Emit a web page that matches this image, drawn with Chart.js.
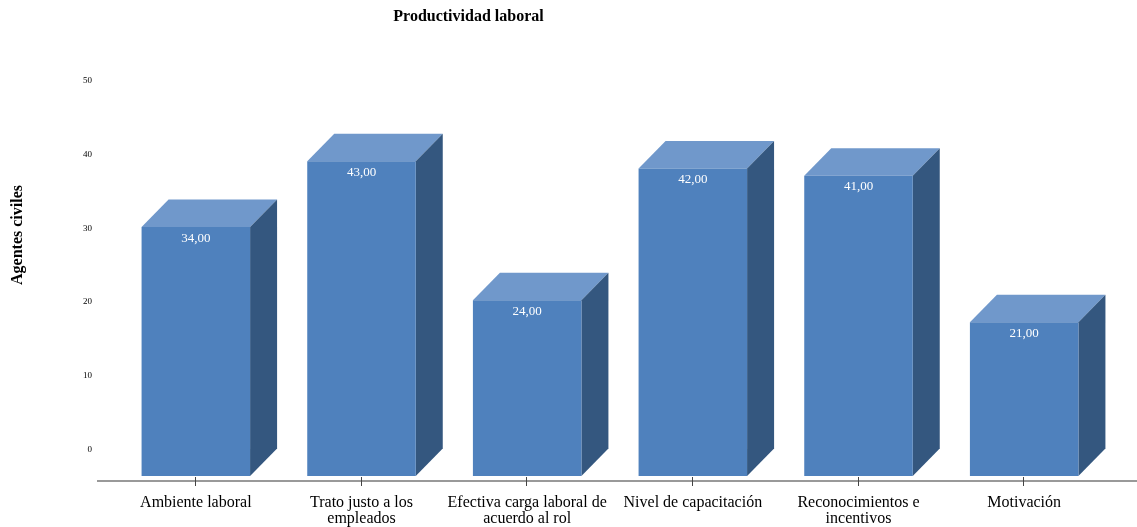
<!DOCTYPE html>
<html>
<head>
<meta charset="utf-8">
<title>Productividad laboral</title>
<script src="https://cdn.jsdelivr.net/npm/chart.js@4"></script>
<style>
body{margin:0;background:#fff}
canvas{display:block}
</style>
</head>
<body>
<canvas id="chart" width="1137" height="527"></canvas>
<script>
const chartTitle="Productividad laboral";
const yTitle="Agentes civiles";
const categories=[
    "Ambiente laboral",
    ["Trato justo a los","empleados"],
    ["Efectiva carga laboral de","acuerdo al rol"],
    "Nivel de capacitación",
    ["Reconocimientos e","incentivos"],
    "Motivación"
];
const values=[34,43,24,42,41,21];
const yTicks=[0,10,20,30,40,50];

const serif="'Liberation Serif','Times New Roman',serif";
const depthX=27;
const depthY=27.5;

const bar3d={
    id:"bar3d",
    beforeDatasetsDraw(chart){
        const ctx=chart.ctx;
        chart.getDatasetMeta(0).data.forEach(bar=>{
            const left=bar.x-bar.width/2;
            const right=bar.x+bar.width/2;
            ctx.fillStyle="#7098CB";
            ctx.beginPath();
            ctx.moveTo(left,bar.y);
            ctx.lineTo(left+depthX,bar.y-depthY);
            ctx.lineTo(right+depthX,bar.y-depthY);
            ctx.lineTo(right,bar.y);
            ctx.closePath();
            ctx.fill();
            ctx.fillStyle="#34577F";
            ctx.beginPath();
            ctx.moveTo(right,bar.y);
            ctx.lineTo(right+depthX,bar.y-depthY);
            ctx.lineTo(right+depthX,bar.base-depthY);
            ctx.lineTo(right,bar.base);
            ctx.closePath();
            ctx.fill();
        });
    },
    afterDatasetsDraw(chart){
        const ctx=chart.ctx;
        ctx.save();
        ctx.fillStyle="#fff";
        ctx.font="13px "+serif;
        ctx.textAlign="center";
        ctx.textBaseline="middle";
        chart.getDatasetMeta(0).data.forEach((bar,i)=>{
            ctx.fillText(values[i].toFixed(2).replace(".",","),bar.x,bar.y+11);
        });
        ctx.restore();
    },
    afterDraw(chart){
        const ctx=chart.ctx;
        const axisY=chart.chartArea.bottom;
        ctx.save();
        ctx.strokeStyle="#777";
        ctx.lineWidth=1.3;
        ctx.beginPath();
        ctx.moveTo(97,axisY);
        ctx.lineTo(1137,axisY);
        ctx.stroke();
        ctx.strokeStyle="#444";
        ctx.lineWidth=1;
        categories.forEach((c,i)=>{
            const x=Math.round(chart.scales.x.getPixelForTick(i))-0.5;
            ctx.beginPath();
            ctx.moveTo(x,axisY-4);
            ctx.lineTo(x,axisY+5);
            ctx.stroke();
        });
        ctx.fillStyle="#000";
        ctx.font="bold 16px "+serif;
        ctx.textAlign="center";
        ctx.textBaseline="middle";
        ctx.fillText(chartTitle,468.5,17);
        ctx.translate(18,235);
        ctx.rotate(-Math.PI/2);
        ctx.fillText(yTitle,0,0);
        ctx.restore();
    }
};

new Chart(document.getElementById("chart"),{
    type:"bar",
    data:{
        labels:categories,
        datasets:[{
            data:values,
            yAxisID:"front",
            backgroundColor:"#4F81BD",
            barPercentage:0.655,
            categoryPercentage:1
        }]
    },
    plugins:[bar3d],
    options:{
        responsive:false,
        animation:false,
        layout:{
            padding:{top:81,right:30,left:0,bottom:0}
        },
        plugins:{
            legend:{display:false},
            tooltip:{enabled:false}
        },
        scales:{
            x:{
                grid:{display:false},
                border:{display:false},
                ticks:{
                    color:"#000",
                    font:{family:serif,size:16,lineHeight:1},
                    padding:6,
                    maxRotation:0,
                    autoSkip:false
                },
                afterFit(scale){
                    scale.height=46;
                }
            },
            // tick axis, sits on the back wall of the bars
            y:{
                min:-4.27,
                max:50,
                grid:{display:false},
                border:{display:false},
                afterBuildTicks(scale){
                    scale.ticks=yTicks.map(v=>({value:v}));
                },
                ticks:{
                    color:"#000",
                    font:{family:serif,size:9},
                    padding:13
                },
                afterFit(scale){
                    scale.width=113;
                }
            },
            // front faces of the bars, shifted down by the 3d depth
            front:{
                display:false,
                min:-0.683,
                max:53.96
            }
        }
    }
});
</script>
</body>
</html>
